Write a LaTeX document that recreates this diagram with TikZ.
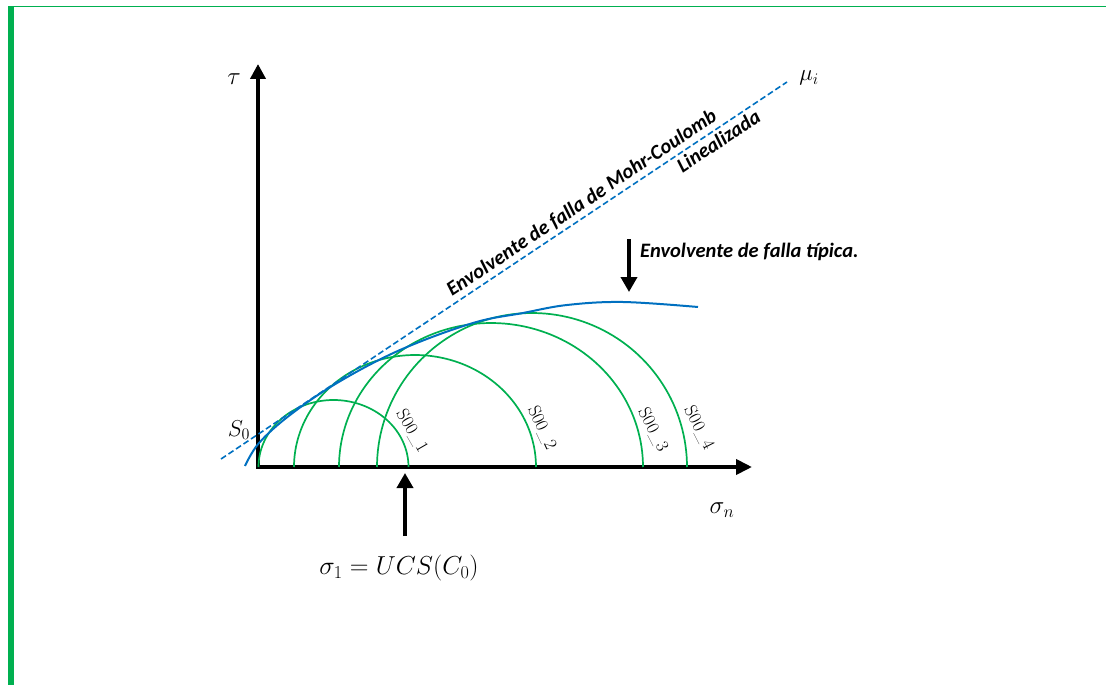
\RequirePackage{fix-cm}
\documentclass[tikz,border=0pt]{standalone}
\usepackage{fontspec}
\newfontfamily\carl{Carlito}
\usetikzlibrary{arrows.meta}
\definecolor{exgreen}{HTML}{00B050}
\definecolor{exblue}{HTML}{0070C0}
\tikzset{
  axisline/.style={line width=3.8pt, line join=miter},
  pointer/.style={line width=3.6pt, -{Triangle[length=15pt,width=16pt]}},
  mohr/.style={exgreen, line width=1.7pt},
  envline/.style={exblue, line width=2pt},
  mcline/.style={exblue, line width=1.6pt, dash pattern=on 6pt off 3pt},
  lbl/.style={text=black, font=\carl\bfseries\itshape\fontsize{20.5}{23}\selectfont, inner sep=1pt},
  mlbl/.style={text=black, font=\fontsize{25}{30}\selectfont, inner sep=0pt},
  slbl/.style={text=black, font=\fontsize{18}{20}\selectfont, inner sep=0pt},
}
\begin{document}
\begin{tikzpicture}[x=1pt,y=-1pt]
\useasboundingbox (0,0) rectangle (1106,685);
% frame
\fill[exgreen] (8,6) rectangle (14,685);
\draw[exgreen, line width=1.2pt] (8,6.5) -- (1106,6.5);
% axes
\coordinate (O) at (258,467);
\coordinate (ytip) at (258,64);
\coordinate (xtip) at (752,467);
\draw[axisline, {Triangle[length=15pt,width=15pt]}-{Triangle[length=16pt,width=15pt]}] (ytip) |- (xtip);
% Mohr circles
\draw[mohr] plot[domain=180:0, samples=90] ({333.5+75*cos(\x)}, {467-67*sin(\x)});
\draw[mohr] plot[domain=180:0, samples=90] ({415+121*cos(\x)}, {467-112*sin(\x)});
\draw[mohr] plot[domain=180:0, samples=90] ({491+152*cos(\x)}, {467-144*sin(\x)});
\draw[mohr] plot[domain=180:0, samples=90] ({532+155*cos(\x)}, {467-154*sin(\x)});
% typical envelope
\draw[envline] plot[smooth, tension=0.6] coordinates {(245,466) (259,443) (290,415) (337,383) (400,350) (473,323) (523,313) (567,305) (623,302) (698,307)};
% linearized Mohr-Coulomb
\coordinate (mcA) at (221,459);
\coordinate (mcB) at (787,82);
\draw[mcline] (mcA) -- (mcB)
  node[lbl, pos=0.650, sloped, above, inner sep=3.5pt] (mctext) {Envolvente de falla de Mohr-Coulomb}
  node[lbl, pos=0.868, sloped, below, inner sep=3pt] (lintext) {Linealizada};
% labels
\node[mlbl] (tau) at (234,79) {$\tau$};
\node[mlbl] (sn) at (722,510) {$\sigma_n$};
\node[mlbl, font=\fontsize{23}{27}\selectfont] (mu) at (809,78) {$\mu_i$};
\node[mlbl, font=\fontsize{23}{27}\selectfont] (s0) at (239,430) {$S_0$};
\node[slbl, rotate=-60] (s1) at (412,431) {S00\_1};
\node[slbl, rotate=-65] (s2) at (542,428) {S00\_2};
\node[slbl, rotate=-63] (s3) at (653,430) {S00\_3};
\node[slbl, rotate=-63] (s4) at (699,428) {S00\_4};
% typical envelope pointer
\node[lbl, inner sep=0pt, anchor=base west] (typ) at (640,257) {Envolvente de falla típica.};
\coordinate (typA) at (629,239);
\coordinate (typB) at (629,292);
\draw[pointer] (typA) -- (typB);
% UCS pointer
\node[mlbl, font=\fontsize{26}{30}\selectfont] (ucs) at (399,568) {$\sigma_1 = UCS(C_0)$};
\coordinate (ucsA) at (405,536);
\coordinate (ucsB) at (405,473);
\draw[pointer] (ucsA) -- (ucsB);
\end{tikzpicture}
\end{document}
